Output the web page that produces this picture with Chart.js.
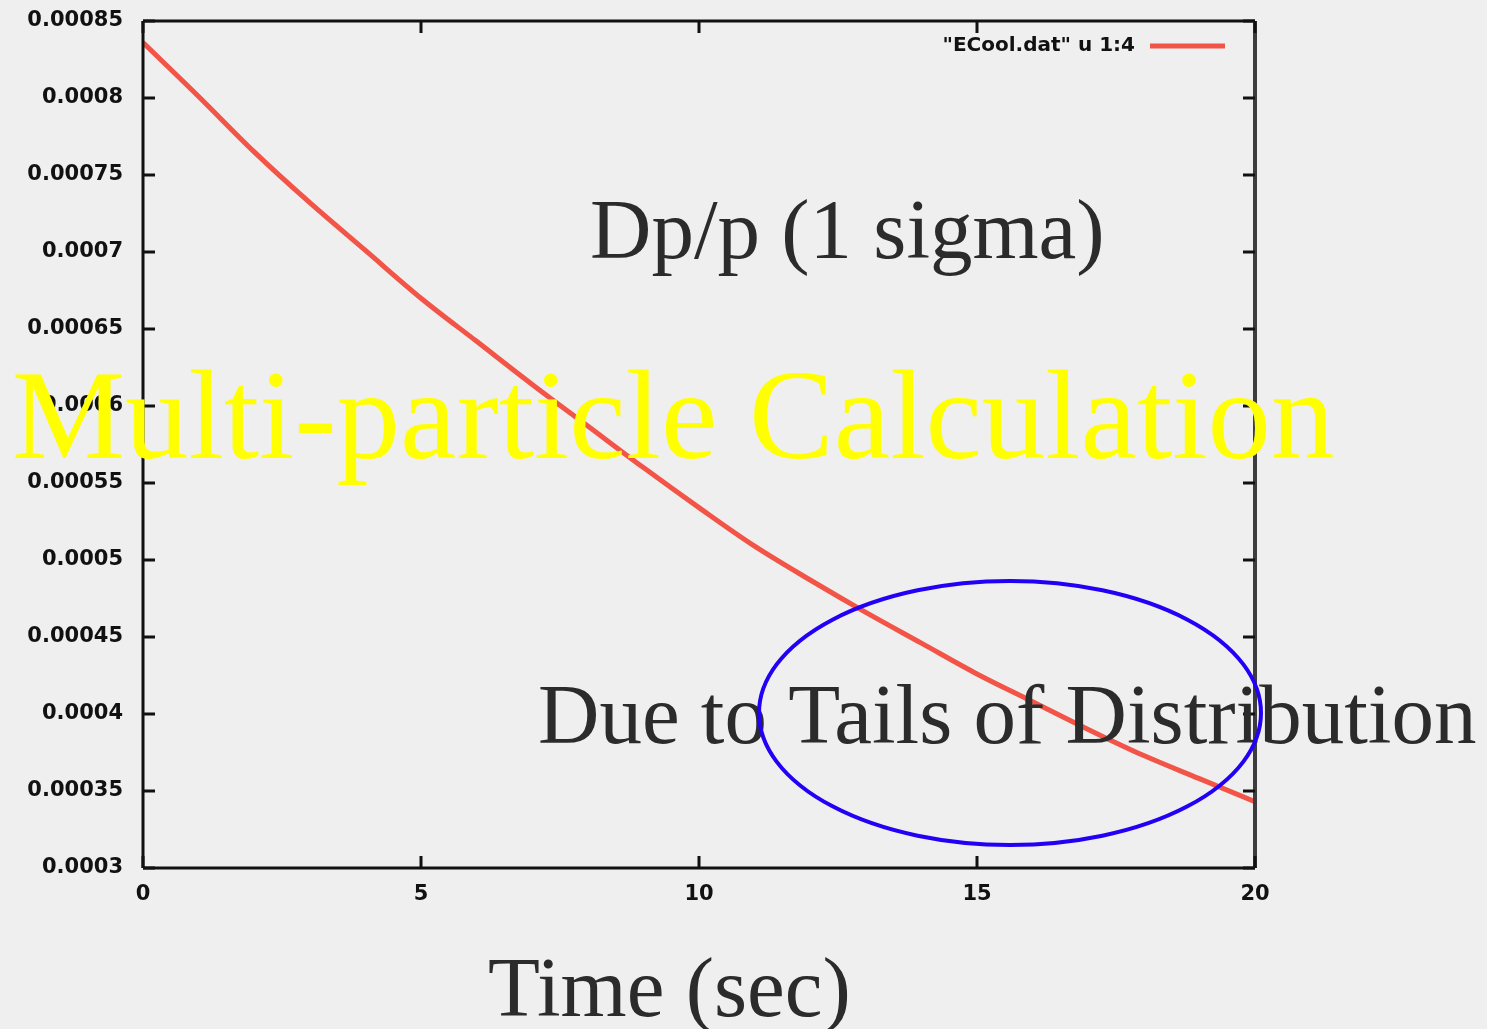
<!DOCTYPE html>
<html lang="en">
<head>
  <meta charset="UTF-8" />
  <title>Dp/p vs time</title>
  <script src="https://cdn.jsdelivr.net/npm/chart.js"></script>
  <style>
    html, body {
      margin: 0;
      padding: 0;
      background: #efefef;
    }
    #wrap {
      width: 1487px;
      height: 1029px;
    }
  </style>
</head>
<body>
  <div id="wrap">
    <canvas id="dpChart" width="1487" height="1029"></canvas>
  </div>

  <script>
    // momentum spread (1 sigma) sampled every second
    const timeSec = [0, 1, 2, 3, 4, 5, 6, 7, 8, 9, 10, 11, 12, 13, 14, 15, 16, 17, 18, 19, 20];
    const dpOverP = [
      0.000836, 0.000801, 0.000765, 0.000732, 0.000701, 0.000670, 0.000642,
      0.000614, 0.000587, 0.000560, 0.000534, 0.000509, 0.000487, 0.000466,
      0.000446, 0.000426, 0.000408, 0.000390, 0.000373, 0.000358, 0.000343
    ];
    const xTickValues = [0, 5, 10, 15, 20];
    const yTickValues = [0.0003, 0.00035, 0.0004, 0.00045, 0.0005, 0.00055, 0.0006,
                         0.00065, 0.0007, 0.00075, 0.0008, 0.00085];
    const legendLabel = '"ECool.dat" u 1:4';

    const lineColor = "rgba(242, 72, 56, 0.92)";
    const tickFont = { family: "DejaVu Sans", weight: "bold", size: 21 };

    function seg(ctx, x1, y1, x2, y2) {
      ctx.beginPath();
      ctx.moveTo(x1, y1);
      ctx.lineTo(x2, y2);
      ctx.stroke();
    }

    // gnuplot style frame, mirrored inward ticks, key and slide annotations
    const slideOverlay = {
      id: "slideOverlay",
      afterDatasetsDraw(chart) {
        const { ctx, chartArea: a, scales: { x, y } } = chart;
        ctx.save();

        ctx.strokeStyle = "#111";
        ctx.lineWidth = 3;
        seg(ctx, a.left, a.top, a.right, a.top);
        seg(ctx, a.left, a.top, a.left, a.bottom);
        seg(ctx, a.left, a.bottom, a.right, a.bottom);
        ctx.strokeStyle = "#3c3c3c";
        ctx.lineWidth = 4;
        seg(ctx, a.right, a.top, a.right, a.bottom);

        ctx.strokeStyle = "#111";
        ctx.lineWidth = 3;
        yTickValues.forEach(v => {
          const py = y.getPixelForValue(v);
          seg(ctx, a.left, py, a.left + 12, py);
          seg(ctx, a.right, py, a.right - 12, py);
        });
        xTickValues.forEach(v => {
          const px = x.getPixelForValue(v);
          seg(ctx, px, a.top, px, a.top + 12);
          seg(ctx, px, a.bottom, px, a.bottom - 12);
        });

        // key
        ctx.font = "bold 20px 'DejaVu Sans'";
        ctx.fillStyle = "#111";
        ctx.textAlign = "right";
        ctx.textBaseline = "middle";
        ctx.fillText(legendLabel, a.right - 120, a.top + 25);
        ctx.strokeStyle = lineColor;
        ctx.lineWidth = 5;
        seg(ctx, a.right - 105, a.top + 25, a.right - 30, a.top + 25);

        // slide text
        ctx.textAlign = "left";
        ctx.textBaseline = "alphabetic";
        ctx.fillStyle = "#2b2b2b";
        ctx.font = "85px 'Liberation Serif'";
        ctx.fillText("Dp/p (1 sigma)", 590, 258);

        ctx.fillStyle = "#ffff00";
        ctx.font = "127px 'Liberation Serif'";
        ctx.fillText("Multi-particle Calculation", 12, 458);

        ctx.fillStyle = "#2b2b2b";
        ctx.font = "85px 'Liberation Serif'";
        ctx.fillText("Due to Tails of Distribution", 538, 743);
        ctx.fillText("Time (sec)", 488, 1016);

        // highlight ring around the tail region
        ctx.strokeStyle = "#2200f5";
        ctx.lineWidth = 4;
        ctx.beginPath();
        ctx.ellipse(1010, 713, 251, 132, 0, 0, Math.PI * 2);
        ctx.stroke();

        ctx.restore();
      }
    };

    new Chart(document.getElementById("dpChart"), {
      type: "line",
      data: {
        datasets: [{
          label: legendLabel,
          data: timeSec.map((t, i) => ({ x: t, y: dpOverP[i] })),
          borderColor: lineColor,
          borderWidth: 5,
          pointRadius: 0,
          cubicInterpolationMode: "monotone",
          fill: false
        }]
      },
      options: {
        responsive: false,
        animation: false,
        devicePixelRatio: 1,
        layout: { padding: { top: 21, right: 232, left: 0, bottom: 0 } },
        plugins: {
          legend: { display: false },
          tooltip: { enabled: false }
        },
        scales: {
          x: {
            type: "linear",
            min: 0,
            max: 20,
            grid: { display: false, drawTicks: false },
            border: { display: false },
            afterBuildTicks: s => { s.ticks = xTickValues.map(v => ({ value: v })); },
            afterFit: s => { s.height = 161; s.paddingLeft = 0; s.paddingRight = 0; },
            ticks: { color: "#111", font: tickFont, padding: 14 }
          },
          y: {
            min: 0.0003,
            max: 0.00085,
            grid: { display: false, drawTicks: false },
            border: { display: false },
            afterBuildTicks: s => { s.ticks = yTickValues.map(v => ({ value: v })); },
            afterFit: s => { s.width = 143; s.paddingTop = 0; s.paddingBottom = 0; },
            ticks: {
              color: "#111",
              font: tickFont,
              padding: 20,
              callback: v => Number(v.toFixed(5)).toString()
            }
          }
        }
      },
      plugins: [slideOverlay]
    });
  </script>
</body>
</html>
